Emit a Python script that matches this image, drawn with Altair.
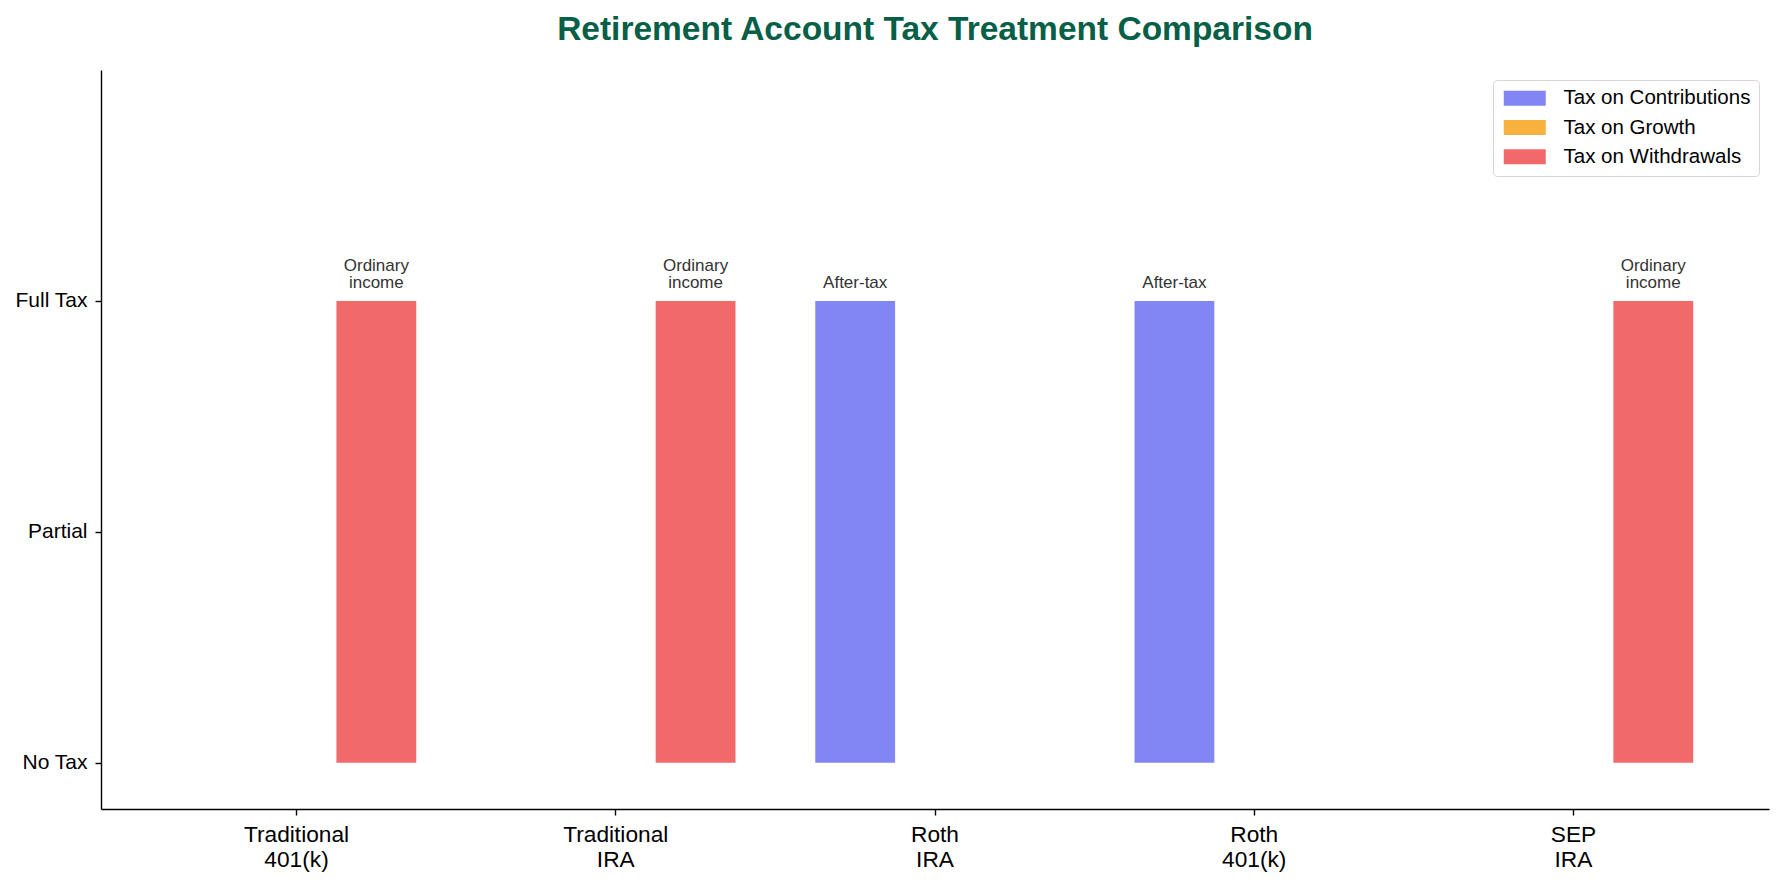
import altair as alt
import pandas as pd

# ---- data ----
chart_title = ["Retirement Account Tax Treatment Comparison"]
accounts = ["Traditional 401(k)", "Traditional IRA", "Roth IRA", "Roth 401(k)", "SEP IRA"]
series = ["Tax on Contributions", "Tax on Growth", "Tax on Withdrawals"]
tax_contributions = [0, 0, 1, 1, 0]
tax_growth = [0, 0, 0, 0, 0]
tax_withdrawals = [1, 1, 0, 0, 1]
notes_contributions = ["", "", "After-tax", "After-tax", ""]
notes_growth = ["", "", "", "", ""]
notes_withdrawals = ["Ordinary\nincome", "Ordinary\nincome", "", "", "Ordinary\nincome"]
colors = ["#8285F4", "#F7B13C", "#F26969"]
y_tick_values = [0, 0.5, 1]
y_tick_labels = ["No Tax", "Partial", "Full Tax"]

rows = []
for s, vals, notes in zip(series,
                          [tax_contributions, tax_growth, tax_withdrawals],
                          [notes_contributions, notes_growth, notes_withdrawals]):
    for a, v, n in zip(accounts, vals, notes):
        rows.append({"account": a, "series": s, "value": v, "note": n})
df = pd.DataFrame(rows)

FONT = "Liberation Sans"
W, H = 1668, 739

label_expr = " : ".join(
    f"datum.value == {v} ? '{l}'" for v, l in zip(y_tick_values, y_tick_labels)
) + " : ''"

x_enc = alt.X(
    "account:N", sort=accounts,
    scale=alt.Scale(paddingInner=0, paddingOuter=0.1125),
    axis=alt.Axis(title=None, labelAngle=0, labelExpr="split(datum.label, ' ')",
                  labelFontSize=22.7, labelLineHeight=25, labelColor="#000000",
                  labelFont=FONT, tickSize=6, tickColor="#000000", tickWidth=1.4,
                  domainColor="#000000", domainWidth=1.4, labelPadding=8, grid=False),
)
xoff_enc = alt.XOffset("series:N", sort=series,
                       scale=alt.Scale(paddingInner=0, paddingOuter=0.5))
y_scale = alt.Scale(domain=[-0.1, 1.5], nice=False, zero=False)

bars = alt.Chart(df).mark_bar().encode(
    x=x_enc,
    xOffset=xoff_enc,
    y=alt.Y("value:Q", scale=y_scale,
            axis=alt.Axis(title=None, values=y_tick_values, labelExpr=label_expr,
                          labelFontSize=21, labelColor="#000000", labelFont=FONT,
                          tickSize=6, tickColor="#000000", tickWidth=1.4,
                          domainColor="#000000", domainWidth=1.4, labelPadding=8,
                          grid=False)),
    y2=alt.datum(0),
    color=alt.Color("series:N", sort=series,
                    scale=alt.Scale(domain=series, range=colors),
                    legend=alt.Legend(
                        title=None, orient="none", legendX=1392, legendY=10,
                        labelFontSize=20.5, labelFont=FONT, labelColor="#000000",
                        labelLimit=0,
                        symbolType="M-1,-1H4.6V1H-1Z", symbolSize=225,
                        symbolStrokeWidth=0, symbolOpacity=1,
                        labelOffset=42, rowPadding=8.3, padding=8,
                        strokeColor="#d6d6d6", fillColor="#ffffff",
                        cornerRadius=4)),
)

notes_base = alt.Chart(df).transform_filter("datum.note != ''").transform_calculate(
    lines="split(datum.note, '\\n')",
    last_line="peek(datum.lines)",
    first_line="length(datum.lines) > 1 ? datum.lines[0] : ''",
)

text_style = dict(fontSize=17, font=FONT, color="#333333", baseline="bottom",
                  align="center")

texts_bottom = notes_base.mark_text(dy=-9, **text_style).encode(
    x=alt.X("account:N", sort=accounts),
    xOffset=alt.XOffset("series:N", sort=series),
    y=alt.Y("value:Q"),
    text="last_line:N",
)
texts_top = notes_base.transform_filter("datum.first_line != ''").mark_text(
    dy=-25.7, **text_style).encode(
    x=alt.X("account:N", sort=accounts),
    xOffset=alt.XOffset("series:N", sort=series),
    y=alt.Y("value:Q"),
    text="first_line:N",
)

title_layer = alt.Chart(pd.DataFrame({"t": chart_title})).mark_text(
    fontSize=33.5, fontWeight="bold", font=FONT, color="#065F46",
    align="center", baseline="alphabetic",
).encode(
    x=alt.value(W / 2),
    y=alt.value(-30.3),
    text="t:N",
)

chart = alt.layer(bars, texts_bottom, texts_top, title_layer).properties(
    width=W, height=H,
    padding={"left": 93, "top": 62, "right": 7, "bottom": 72},
    autosize="none",
    background="#ffffff",
).configure_view(stroke=None)

chart.save("out.html", embed_options={"renderer": "svg", "actions": False})
